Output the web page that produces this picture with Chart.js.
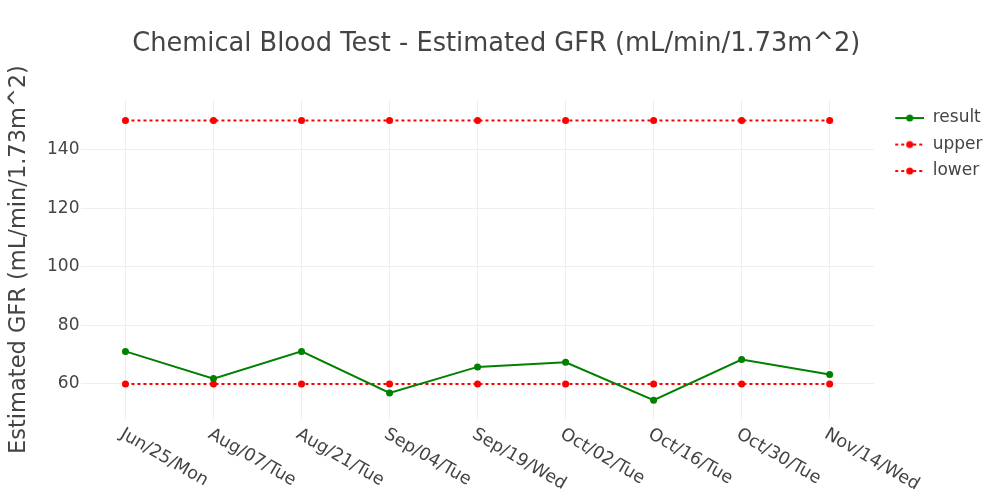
<!DOCTYPE html>
<html>
<head>
<meta charset="utf-8">
<script src="https://cdn.jsdelivr.net/npm/chart.js@4.4.1/dist/chart.umd.min.js"></script>
<style>
  body { margin: 0; background: #fff; }
  #wrap { width: 1000px; height: 500px; }
</style>
</head>
<body>
<div id="wrap"><canvas id="gfr"></canvas></div>
<script>
const dates = ["Jun/25/Mon", "Aug/07/Tue", "Aug/21/Tue", "Sep/04/Tue", "Sep/19/Wed",
               "Oct/02/Tue", "Oct/16/Tue", "Oct/30/Tue", "Nov/14/Wed"];
const result = [71.1, 61.8, 71.1, 56.9, 65.8, 67.4, 54.4, 68.3, 63.2];
const upper = [150, 150, 150, 150, 150, 150, 150, 150, 150];
const lower = [60, 60, 60, 60, 60, 60, 60, 60, 60];
const yTicks = [60, 80, 100, 120, 140];

const FONT = "'DejaVu Sans', Verdana, sans-serif";
const TEXT = "#444";

// line+dot swatch for the legend (blank strip on the left acts as a gap)
function swatch(color, dashed) {
  const c = document.createElement("canvas");
  c.width = 41; c.height = 10;
  const g = c.getContext("2d");
  g.strokeStyle = color;
  g.lineWidth = 2;
  if (dashed) g.setLineDash([3, 3]);
  g.beginPath(); g.moveTo(12, 5); g.lineTo(41, 5); g.stroke();
  g.fillStyle = color;
  g.beginPath(); g.arc(26.5, 5, 3.5, 0, Math.PI * 2); g.fill();
  return c;
}
const icons = [swatch("#008000", false), swatch("#ff0000", true), swatch("#ff0000", true)];

// x labels rotated clockwise, reading down-right from the tick
const slantLabels = {
  id: "slantLabels",
  afterDraw(chart) {
    const ctx = chart.ctx;
    const xs = chart.scales.x;
    const bottom = chart.chartArea.bottom;
    ctx.save();
    ctx.font = "17.5px " + FONT;
    ctx.fillStyle = TEXT;
    ctx.textAlign = "left";
    ctx.textBaseline = "middle";
    dates.forEach((d, i) => {
      const x = xs.getPixelForValue(i);
      ctx.save();
      ctx.translate(x - 4, bottom + 14);
      ctx.rotate(Math.PI / 6);
      ctx.fillText(d, 0, 0);
      ctx.restore();
    });
    ctx.restore();
  }
};

new Chart(document.getElementById("gfr"), {
  type: "line",
  data: {
    labels: dates,
    datasets: [
      {
        label: "result",
        data: result,
        borderColor: "#008000",
        backgroundColor: "#008000",
        borderWidth: 2,
        pointRadius: 3.5,
        pointBorderWidth: 0,
        tension: 0,
      },
      {
        label: "upper",
        data: upper,
        borderColor: "#ff0000",
        backgroundColor: "#ff0000",
        borderWidth: 2,
        borderDash: [3, 3],
        pointRadius: 3.5,
        pointBorderWidth: 0,
      },
      {
        label: "lower",
        data: lower,
        borderColor: "#ff0000",
        backgroundColor: "#ff0000",
        borderWidth: 2,
        borderDash: [3, 3],
        pointRadius: 3.5,
        pointBorderWidth: 0,
      },
    ]
  },
  options: {
    responsive: true,
    maintainAspectRatio: false,
    animation: false,
    layout: { padding: { left: 0, right: 7.5, top: 0, bottom: 81 } },
    plugins: {
      tooltip: { enabled: false },
      title: {
        display: true,
        text: "Chemical Blood Test - Estimated GFR (mL/min/1.73m^2)",
        color: TEXT,
        font: { family: FONT, size: 25.7, weight: "normal" },
        padding: { top: 29, bottom: 40.2 },
      },
      legend: {
        position: "right",
        align: "start",
        fullSize: false,
        labels: {
          color: TEXT,
          font: { family: FONT, size: 17 },
          usePointStyle: true,
          pointStyleWidth: 41,
          padding: 9.5,
          generateLabels(chart) {
            const items = Chart.defaults.plugins.legend.labels.generateLabels(chart);
            items.forEach((it, i) => { it.pointStyle = icons[i]; });
            return items;
          }
        }
      }
    },
    scales: {
      x: {
        type: "category",
        offset: true,
        grid: { color: "#eeeeee", offset: false, drawTicks: false },
        border: { display: false },
        ticks: { display: false },
      },
      y: {
        min: 48,
        max: 157,
        grid: { color: "#eeeeee", drawTicks: false },
        border: { display: false },
        afterBuildTicks(scale) {
          scale.ticks = yTicks.map(v => ({ value: v }));
        },
        ticks: {
          color: TEXT,
          font: { family: FONT, size: 17 },
          padding: 2,
        },
        title: {
          display: true,
          text: "Estimated GFR (mL/min/1.73m^2)",
          color: TEXT,
          font: { family: FONT, size: 22.5 },
          padding: { top: 6, bottom: 12 },
        }
      }
    }
  },
  plugins: [slantLabels]
});
</script>
</body>
</html>
